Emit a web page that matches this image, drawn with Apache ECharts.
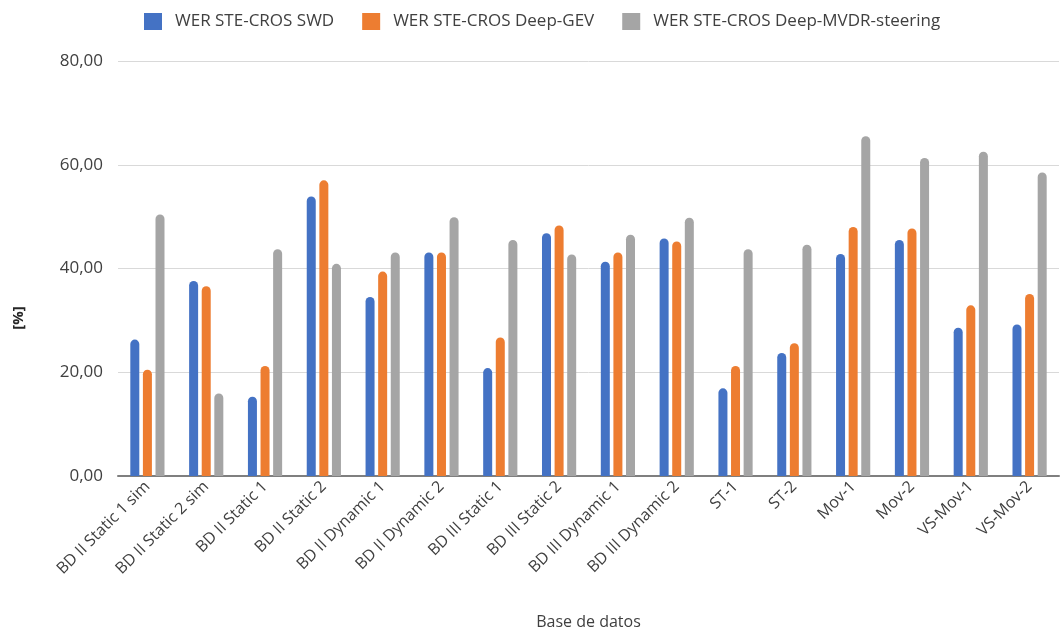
<!DOCTYPE html>
<html>
<head>
<meta charset="utf-8">
<script src="https://cdn.jsdelivr.net/npm/echarts@6/dist/echarts.min.js"></script>
<style>html,body{margin:0;padding:0;background:#fff;}#c{width:1062px;height:635px;}</style>
</head>
<body>
<div id="c"></div>
<script>
const categories = ["BD II Static 1 sim","BD II Static 2 sim","BD II Static 1","BD II Static 2","BD II Dynamic 1","BD II Dynamic 2","BD III Static 1","BD III Static 2","BD III Dynamic 1","BD III Dynamic 2","ST-1","ST-2","Mov-1","Mov-2","VS-Mov-1","VS-Mov-2"];
const swd  = [26.3,37.6,15.3,53.9,34.5,43.1,20.8,46.8,41.3,45.8,16.9,23.7,42.8,45.5,28.6,29.2];
const gev  = [20.5,36.6,21.2,57.0,39.4,43.1,26.7,48.3,43.1,45.2,21.2,25.6,48.0,47.7,32.9,35.1];
const mvdr = [50.4,15.9,43.7,40.9,43.1,49.9,45.5,42.7,46.5,49.8,43.7,44.6,65.5,61.3,62.5,58.5];
const seriesNames = ["WER STE-CROS SWD","WER STE-CROS Deep-GEV","WER STE-CROS Deep-MVDR-steering"];
const colors = ["#4472C4","#ED7D31","#A5A5A5"];

const chart = echarts.init(document.getElementById('c'));
const font = "'Open Sans', sans-serif";
function mk(name, data, color){
  return {name, type:'bar', data, barWidth:9, barGap:'40%',
    itemStyle:{color, borderRadius:[4.5,4.5,0,0]}};
}
chart.setOption({
  animation:false,
  textStyle:{fontFamily:font},
  legend:{top:8, left:139, itemWidth:18, itemHeight:17, itemGap:28,
    icon:'rect',
    textStyle:{fontSize:17, color:'#404040', fontFamily:font, padding:[0,0,0,8]},
    data:seriesNames},
  grid:{left:118, right:3, top:61, bottom:159},
  xAxis:{type:'category', data:categories,
    axisLine:{lineStyle:{color:'#7f7f7f', width:2}},
    axisTick:{show:false},
    axisLabel:{rotate:45, fontSize:16, color:'#404040', margin:8, interval:0, fontFamily:font},
    name:'Base de datos', nameLocation:'middle', nameGap:138,
    nameTextStyle:{fontSize:16, color:'#404040', fontFamily:font}},
  yAxis:{type:'value', min:0, max:80, interval:20,
    axisLine:{show:false}, axisTick:{show:false},
    splitLine:{lineStyle:{color:'#d9d9d9', width:1}},
    axisLabel:{fontSize:17, color:'#404040', margin:15, fontFamily:font,
      formatter:v=>v.toFixed(2).replace('.',',')}},
  graphic:[{type:'text', x:19, y:318, rotation:Math.PI/2,
    style:{text:'[%]', fontSize:15, fontWeight:'bold', fill:'#262626', fontFamily:font,
      align:'center', verticalAlign:'middle'}}],
  series:[mk(seriesNames[0],swd,colors[0]),mk(seriesNames[1],gev,colors[1]),mk(seriesNames[2],mvdr,colors[2])]
});
</script>
</body>
</html>
